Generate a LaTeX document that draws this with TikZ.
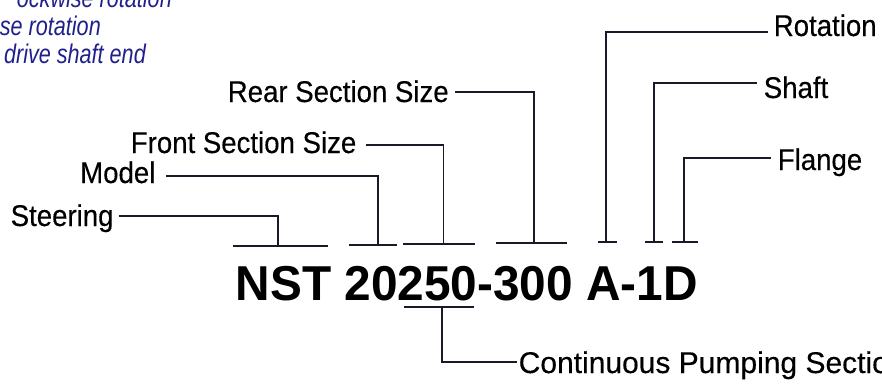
\documentclass[tikz,border=0pt]{standalone}
\usepackage{fontspec}
\setmainfont{Liberation Sans}
\newfontfamily\labelfont[FakeStretch=0.92,FakeBold=0.3]{Liberation Sans}
\newfontfamily\widefont[FakeBold=0.3]{Liberation Sans}
\newfontfamily\codefont[FakeStretch=0.975]{Liberation Sans}
\newfontfamily\notefont[FakeStretch=0.8]{Liberation Sans}
\usetikzlibrary{positioning}
\definecolor{leadcol}{RGB}{28,24,40}
\definecolor{notecol}{RGB}{32,32,140}
\tikzset{
  lbl/.style={font=\labelfont\fontsize{30}{30}\selectfont, inner sep=0pt, anchor=base west}, % part labels
  code/.style={font=\codefont\bfseries\fontsize{49}{49}\selectfont, inner sep=0pt, anchor=base west},
  note/.style={font=\notefont\itshape\fontsize{27}{27}\selectfont, text=notecol, inner sep=0pt, anchor=base east},
  lead/.style={line width=1.4pt, draw=leadcol}, % leader lines and bars
}
\begin{document}
\begin{tikzpicture}[x=1pt, y=-1pt]
    \useasboundingbox (0,0) rectangle (882,383);

    % cut-off notes, top left
    \node[note] (note1) at (172,7)  {ockwise rotation};
    \node[note] (note2) at (101,35) {se rotation};
    \node[note] (note3) at (146,63) {drive shaft end};

    \node[code] (code) at (235.5,300) {NST 20250-300 A-1D};

    \node[lbl] (steer)  at (10.5,226) {Steering};
    \node[lbl] (model)  at (80,183)   {Model};
    \node[lbl] (front)  at (130.6,153) {Front Section Size};
    \node[lbl] (rear)   at (227.6,102) {Rear Section Size};
    \node[lbl] (rot)    at (773.6,36) {Rotation};
    \node[lbl] (shaft)  at (763.6,98) {Shaft};
    \node[lbl] (flange) at (777.6,170) {Flange};
    \node[lbl, font=\widefont\fontsize{30}{30}\selectfont] (pump) at (518.5,373) {Continuous Pumping Section};

    % tap points on the bars
    \coordinate (steerT)  at (278,246);
    \coordinate (modelT)  at (378,245);
    \coordinate (frontT)  at (443.5,244);
    \coordinate (rearT)   at (534,243);
    \coordinate (rotT)    at (606,242);
    \coordinate (shaftT)  at (654,242);
    \coordinate (flangeT) at (684,242);
    \coordinate (pumpT)   at (442,307);

    % bars
    \draw[lead] ([xshift=-45]steerT) -- ([xshift=50]steerT);
    \draw[lead] ([xshift=-29]modelT) -- ([xshift=19]modelT);
    \draw[lead] ([xshift=-40.5]frontT) -- ([xshift=31.5]frontT);
    \draw[lead] ([xshift=-38]rearT) -- ([xshift=33]rearT);
    \draw[lead] ([xshift=-8]rotT) -- ([xshift=11]rotT);
    \draw[lead] ([xshift=-9]shaftT) -- ([xshift=9]shaftT);
    \draw[lead] ([xshift=-12]flangeT) -- ([xshift=14]flangeT);
    \draw[lead] ([xshift=-38]pumpT) -- ([xshift=32]pumpT);

    % leaders
    \draw[lead] (steer.base east) ++(5,-10) -| (steerT);
    \draw[lead] (model.base east) ++(10,-7) -| (modelT);
    \draw[lead] (front.base east) ++(9,-8) -| (frontT);
    \draw[lead] (rear.base east) ++(6,-10) -| (rearT);
    \draw[lead] (rot.base west) ++(-6,-4) -| (rotT);
    \draw[lead] (shaft.base west) ++(-7,-15) -| (shaftT);
    \draw[lead] (flange.base west) ++(-7,-12) -| (flangeT);
    \draw[lead] (pump.base west) ++(-2,-11) -| (pumpT);
\end{tikzpicture}
\end{document}
